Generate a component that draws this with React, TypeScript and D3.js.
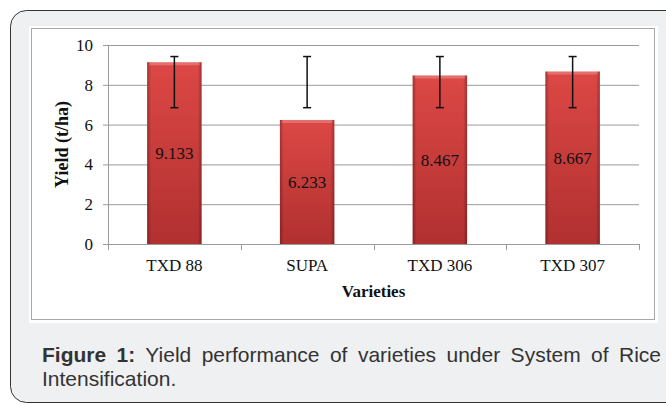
import React, { useRef, useEffect, useState } from 'react';
import * as d3 from 'd3';

const categories = ['TXD 88', 'SUPA', 'TXD 306', 'TXD 307'];
const yields = [9.133, 6.233, 8.467, 8.667];
const errLow = [6.85, 6.85, 6.85, 6.85];
const errHigh = [9.42, 9.42, 9.42, 9.42];
const yTicks = [0, 2, 4, 6, 8, 10];

const W = 666;
const H = 405;
const serif = '"Liberation Serif", "Times New Roman", serif';
const sans = '"Liberation Sans", Arial, sans-serif';
const captionWidth = 619;

const App = () => {
  const captionRef = useRef<SVGTextElement>(null);
  const [wordGap, setWordGap] = useState(0);

  useEffect(() => {
    // justify the first caption line by stretching the word gaps
    const el = captionRef.current;
    if (!el) return;
    const natural = el.getComputedTextLength();
    const spaces = (el.textContent || '').split(' ').length - 1;
    if (spaces > 0) setWordGap((captionWidth - natural) / spaces);
  }, []);

  const x = d3.scaleBand<string>().domain(categories).range([108, 639]).padding(0);
  const y = d3.scaleLinear().domain([0, 10]).range([244, 45]);
  const barW = x.bandwidth() * 0.41;
  const bounds = [...categories.map((c) => x(c) as number), 639];

  return (
    <svg
      width={W}
      height={H}
      style={{ position: 'fixed', left: 0, top: 0, display: 'block' }}
    >
      <defs>
        <linearGradient id="barFill" x1="0" y1="0" x2="0" y2="1">
          <stop offset="0" stopColor="#dc4845" />
          <stop offset="1" stopColor="#b13030" />
        </linearGradient>
        <linearGradient id="barEdge" x1="0" y1="0" x2="1" y2="0">
          <stop offset="0" stopColor="#000" stopOpacity="0.28" />
          <stop offset="0.07" stopColor="#000" stopOpacity="0" />
          <stop offset="0.93" stopColor="#000" stopOpacity="0" />
          <stop offset="1" stopColor="#000" stopOpacity="0.28" />
        </linearGradient>
      </defs>
      <rect x={0} y={0} width={W} height={H} fill="#fff" />
      {/* caption frame */}
      <rect x={10.5} y={10.5} width={720} height={392} rx={16} fill="#eff0f2" stroke="#333" strokeWidth={1} />
      {/* chart picture */}
      <rect x={29} y={26} width={629} height={297} fill="#fff" />
      <rect x={31.5} y={28.5} width={623} height={291} fill="none" stroke="#a8a8a8" strokeWidth={1} />

      {/* grid */}
      {yTicks.map((t) => (
        <line key={t} x1={103} x2={639} y1={y(t) + 0.5} y2={y(t) + 0.5} stroke="#9a9a9a" strokeWidth={1} />
      ))}
      <line x1={108.5} x2={108.5} y1={y(10)} y2={y(0)} stroke="#9a9a9a" strokeWidth={1} />
      {bounds.map((b, i) => (
        <line key={i} x1={Math.round(b) + 0.5} x2={Math.round(b) + 0.5} y1={y(0)} y2={y(0) + 6} stroke="#9a9a9a" strokeWidth={1} />
      ))}
      {yTicks.map((t) => (
        <text key={t} x={93} y={y(t)} dy="0.35em" textAnchor="end" fontFamily={serif} fontSize={17} fill="#111">
          {t}
        </text>
      ))}

      {/* bars */}
      {categories.map((c, i) => {
        const cx = (x(c) as number) + x.bandwidth() / 2;
        const top = y(yields[i]);
        const h = y(0) - top;
        return (
          <g key={c}>
            <rect x={cx - barW / 2} y={top} width={barW} height={h} fill="url(#barFill)" />
            <rect x={cx - barW / 2} y={top} width={barW} height={h} fill="url(#barEdge)" />
            <rect x={cx - barW / 2 + 2} y={top} width={barW - 4} height={3} fill="#fff" fillOpacity={0.22} />
            <text x={cx} y={top + h / 2} dy="0.35em" textAnchor="middle" fontFamily={serif} fontSize={17} fill="#111">
              {yields[i].toFixed(3)}
            </text>
            <line x1={cx} x2={cx} y1={y(errHigh[i])} y2={y(errLow[i])} stroke="#111" strokeWidth={1.5} />
            <line x1={cx - 4} x2={cx + 4} y1={y(errHigh[i])} y2={y(errHigh[i])} stroke="#111" strokeWidth={1.5} />
            <line x1={cx - 4} x2={cx + 4} y1={y(errLow[i])} y2={y(errLow[i])} stroke="#111" strokeWidth={1.5} />
            <text x={cx} y={271} textAnchor="middle" fontFamily={serif} fontSize={17} fill="#111">
              {c}
            </text>
          </g>
        );
      })}

      <text x={373.5} y={297} textAnchor="middle" fontFamily={serif} fontSize={17} fontWeight="bold" fill="#111">
        Varieties
      </text>
      <text
        transform={`translate(68,${(y(0) + y(10)) / 2}) rotate(-90)`}
        textAnchor="middle"
        fontFamily={serif}
        fontSize={18}
        fontWeight="bold"
        fill="#111"
      >
        Yield (t/ha)
      </text>

      {/* caption */}
      <text ref={captionRef} x={42} y={362} fontFamily={sans} fontSize={21} fill="#333" wordSpacing={wordGap}>
        <tspan fontWeight="bold">Figure 1:</tspan> Yield performance of varieties under System of Rice
      </text>
      <text x={42} y={386} fontFamily={sans} fontSize={21} fill="#333">
        Intensification.
      </text>
    </svg>
  );
};

export default App;
